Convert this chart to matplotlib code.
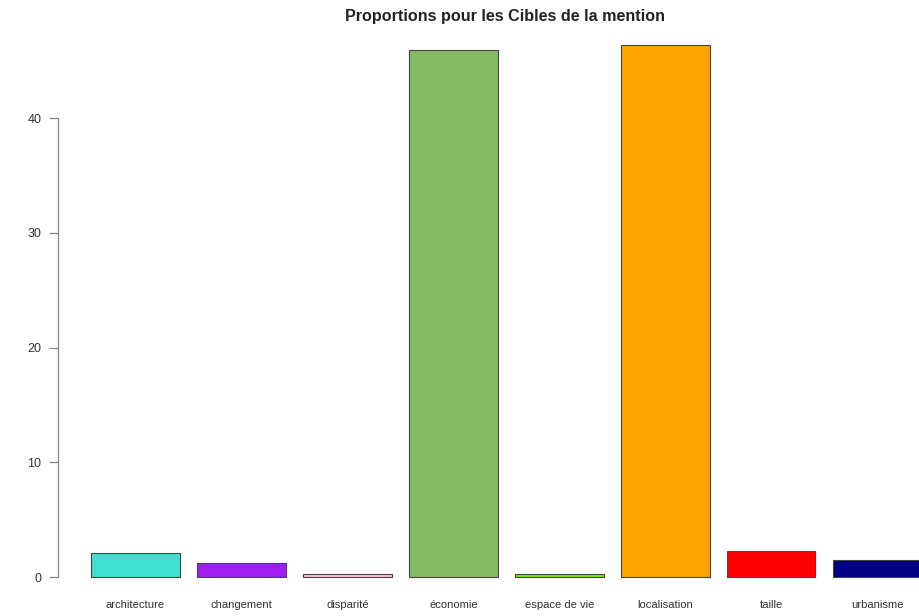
import matplotlib
matplotlib.use("Agg")
import matplotlib.pyplot as plt

plt.rcParams["font.family"] = ["Liberation Sans", "DejaVu Sans"]

categories = ["architecture", "changement", "disparité", "économie",
              "espace de vie", "localisation", "taille", "urbanisme"]
values = [2.05, 1.25, 0.25, 45.9, 0.25, 46.4, 2.3, 1.5]
colors = ["#40E0D0", "#A020F0", "#FFC0CB", "#86BB66",
          "#76EE00", "#FFA500", "#FF0000", "#000080"]
yticks = [0, 10, 20, 30, 40]
title = "Proportions pour les Cibles de la mention"

W, H = 919, 616
fig = plt.figure(figsize=(W / 100, H / 100), dpi=100)
# axes extends beyond right edge (chart is cropped in the reference)
left_px, right_px = 57.5, 973
top_px, bot_px = 23.3, 598.3
ax = fig.add_axes([left_px / W, 1 - bot_px / H,
                   (right_px - left_px) / W, (bot_px - top_px) / H])

n = len(categories)
centers = [0.7 + 1.2 * i for i in range(n)]
ax.bar(centers, values, width=1.0, color=colors, edgecolor="#444444", linewidth=0.8)

ax.set_xlim(-0.184, 10.184)
ymax = max(values)
ax.set_ylim(-0.04 * ymax, ymax * 1.04)

for s in ["top", "right", "bottom"]:
    ax.spines[s].set_visible(False)
ax.spines["left"].set_bounds(0, 40)
ax.spines["left"].set_color("#888888")
ax.spines["left"].set_linewidth(0.9)

ax.set_yticks(yticks)
ax.set_yticklabels([str(t) for t in yticks], fontsize=9, color="#333333")
ax.tick_params(axis="y", length=6.5, color="#888888", width=0.9, pad=5)

ax.set_xticks(centers)
ax.set_xticklabels(categories, fontsize=8.1, color="#333333")
ax.tick_params(axis="x", length=0, pad=1.5)

fig.text(505.5 / W, 1 - 17 / H, title, ha="center", va="center",
         fontsize=11.6, fontweight="bold", color="#222222")

fig.savefig("out.png", dpi=100)
